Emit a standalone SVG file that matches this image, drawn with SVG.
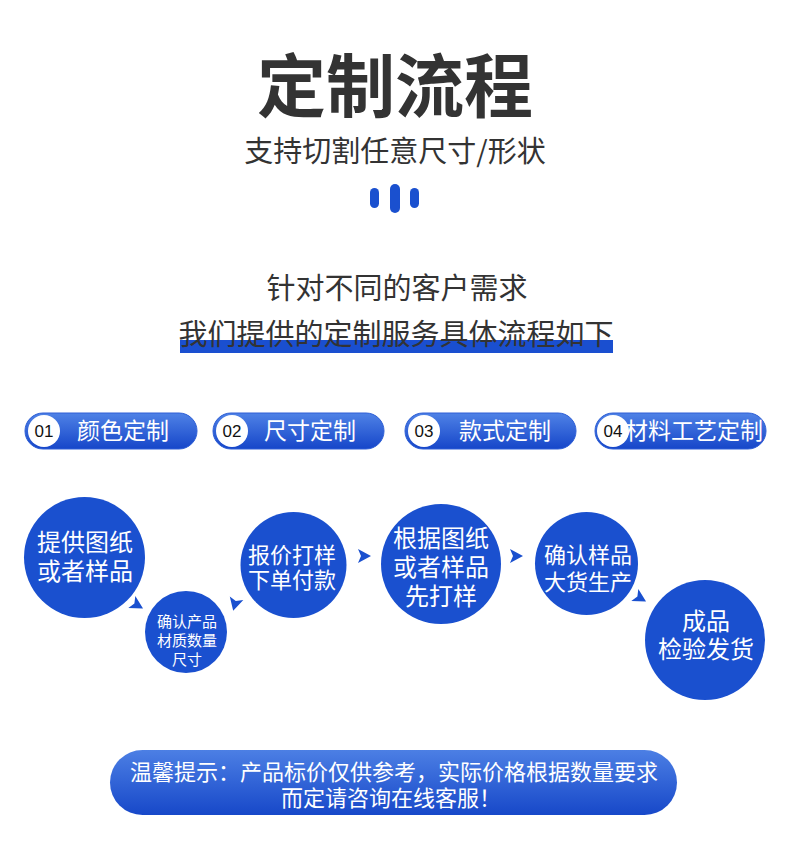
<svg xmlns="http://www.w3.org/2000/svg" width="790" height="867" viewBox="0 0 790 867">
<defs>
<linearGradient id="pg" x1="0" y1="0" x2="0" y2="1">
<stop offset="0" stop-color="#4f82e6"/>
<stop offset="1" stop-color="#1646c9"/>
</linearGradient>
<linearGradient id="bg2" x1="0" y1="0" x2="0" y2="1">
<stop offset="0" stop-color="#4c7fe4"/>
<stop offset="1" stop-color="#1748c9"/>
</linearGradient>
<path id="ah" d="M7,0 L-6,-7 L-3,0 L-6,7 Z"/>
</defs>
<style>
text{font-family:"Noto Sans CJK SC","Noto Sans",sans-serif;text-anchor:middle}
.dark{fill:#333333}
.w{fill:#ffffff}
.num{font-family:"Liberation Sans",Arial,sans-serif;font-size:17px;fill:#111111}
.lbl{font-size:23px;fill:#ffffff}
.circ{fill:#1a50cf}
.pill{fill:url(#pg);stroke:#2e5fd6;stroke-width:1}
.arr{fill:#1a50cf}
</style>
<rect width="790" height="867" fill="#ffffff"/>
<g id="header">
<text x="395" y="112" class="dark" font-size="69" font-weight="bold">定制流程</text>
<text x="395" y="162" class="dark" font-size="29">支持切割任意尺寸/形状</text>
<rect x="370" y="188" width="9" height="20" rx="4.5" fill="#1a50cf"/>
<rect x="390" y="184" width="10" height="29" rx="5" fill="#1a50cf"/>
<rect x="410" y="188" width="9" height="20" rx="4.5" fill="#1a50cf"/>
</g>
<g id="intro">
<text x="397" y="299" class="dark" font-size="29">针对不同的客户需求</text>
<rect x="180" y="340" width="433" height="13" fill="#1a4fd0"/>
<text x="396" y="345" class="dark" font-size="29">我们提供的定制服务具体流程如下</text>
</g>
<g id="opt01">
<rect x="25" y="413" width="172" height="36" rx="18" class="pill"/>
<circle cx="44" cy="431" r="16" fill="#ffffff"/>
<text x="44" y="437" class="num">01</text>
<text x="123" y="439" class="lbl">颜色定制</text>
</g>
<g id="opt02">
<rect x="213" y="413" width="171" height="36" rx="18" class="pill"/>
<circle cx="232" cy="431" r="16" fill="#ffffff"/>
<text x="232" y="437" class="num">02</text>
<text x="310" y="439" class="lbl">尺寸定制</text>
</g>
<g id="opt03">
<rect x="405" y="413" width="171" height="36" rx="18" class="pill"/>
<circle cx="424" cy="431" r="16" fill="#ffffff"/>
<text x="424" y="437" class="num">03</text>
<text x="505" y="439" class="lbl">款式定制</text>
</g>
<g id="opt04">
<rect x="595" y="413" width="171" height="36" rx="18" class="pill"/>
<circle cx="613" cy="431" r="16" fill="#ffffff"/>
<text x="613" y="437" class="num">04</text>
<text x="694" y="439" class="lbl" font-size="21.5">材料工艺定制</text>
</g>
<g id="step1">
<circle cx="84.5" cy="557.5" r="60.5" class="circ"/>
<text x="85" y="551" class="w" font-size="24">提供图纸</text>
<text x="85" y="580" class="w" font-size="24">或者样品</text>
</g>
<g id="step2">
<circle cx="186" cy="632" r="41" class="circ"/>
<text x="187" y="627" class="w" font-size="15">确认产品</text>
<text x="187" y="646" class="w" font-size="15">材质数量</text>
<text x="187" y="665" class="w" font-size="15">尺寸</text>
</g>
<g id="step3">
<circle cx="293.5" cy="565" r="53" class="circ"/>
<text x="292" y="563" class="w" font-size="22">报价打样</text>
<text x="292" y="588" class="w" font-size="22">下单付款</text>
</g>
<g id="step4">
<circle cx="441" cy="564" r="60" class="circ"/>
<text x="441" y="547" class="w" font-size="24">根据图纸</text>
<text x="441" y="576" class="w" font-size="24">或者样品</text>
<text x="441" y="605" class="w" font-size="24">先打样</text>
</g>
<g id="step5">
<circle cx="586.5" cy="563.5" r="51.5" class="circ"/>
<text x="588" y="563" class="w" font-size="22">确认样品</text>
<text x="588" y="590" class="w" font-size="22">大货生产</text>
</g>
<g id="step6">
<circle cx="705" cy="640" r="60" class="circ"/>
<text x="706" y="630" class="w" font-size="24">成品</text>
<text x="706" y="658" class="w" font-size="24">检验发货</text>
</g>
<g id="connectors">
<use href="#ah" class="arr" transform="translate(137,605) rotate(30)"/>
<use href="#ah" class="arr" transform="translate(235,604) rotate(105)"/>
<use href="#ah" class="arr" transform="translate(364,556)"/>
<use href="#ah" class="arr" transform="translate(516,556)"/>
<use href="#ah" class="arr" transform="translate(640,598) rotate(30)"/>
</g>
<g id="notice">
<rect x="110" y="750" width="567" height="65" rx="32.5" fill="url(#bg2)"/>
<text x="394" y="780" class="w" font-size="22">温馨提示：产品标价仅供参考，实际价格根据数量要求</text>
<text x="391" y="806" class="w" font-size="22">而定请咨询在线客服！</text>
</g>
</svg>
